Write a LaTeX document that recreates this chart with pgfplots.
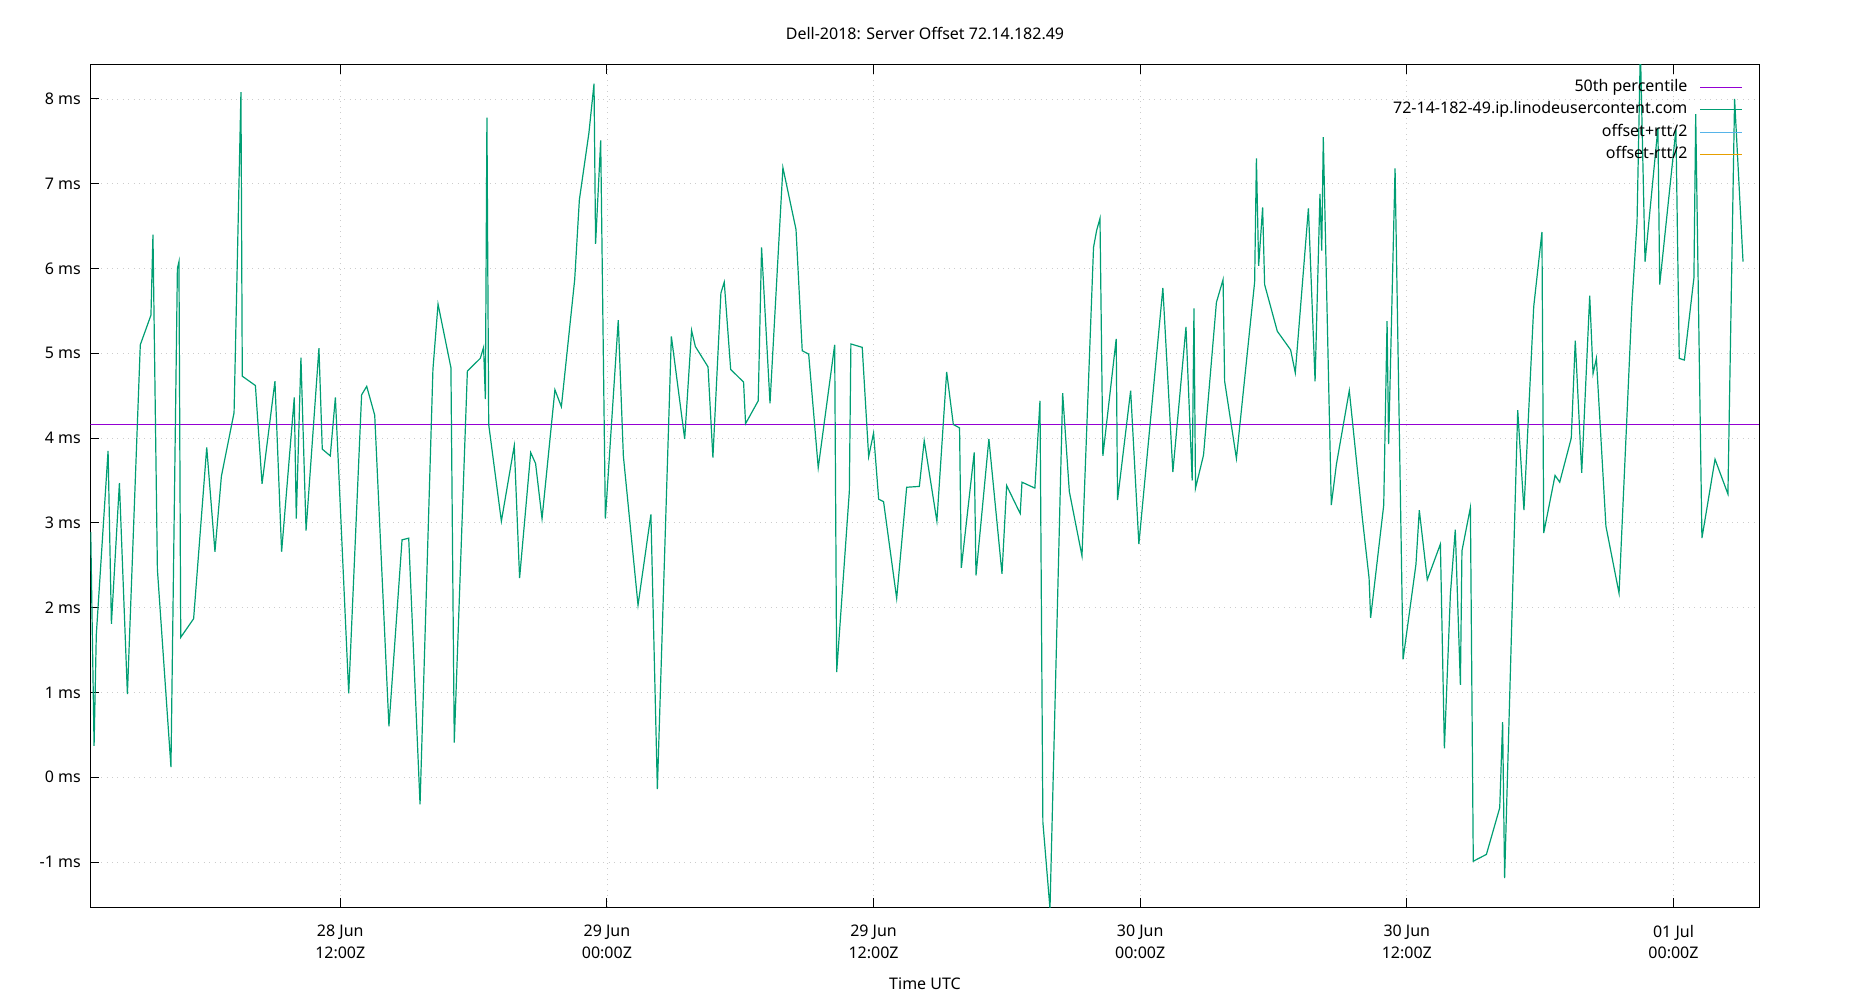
\documentclass[border=0pt]{standalone}
\usepackage{pgfplots}
\pgfplotsset{compat=1.18}
\usepackage{fontspec}
\setmainfont{Noto Sans}
\definecolor{gpviolet}{HTML}{9400D3}
\definecolor{gpgreen}{HTML}{009E73}
\definecolor{gpblue}{HTML}{56B4E9}
\definecolor{gporange}{HTML}{E69F00}
\begin{document}
\begin{tikzpicture}[font=\fontsize{8}{10.8}\selectfont]
\useasboundingbox (0,0) rectangle (925pt,500pt);
\begin{axis}[
  at={(45.15pt,46.5pt)}, anchor=south west,
  width=834.35pt, height=421pt, scale only axis,
  xmin=0.75, xmax=75.85, ymin=-1.53, ymax=8.40,
  xtick={12,24,36,48,60,72},
  xticklabels={{28 Jun\\12:00Z},{29 Jun\\00:00Z},{29 Jun\\12:00Z},{30 Jun\\00:00Z},{30 Jun\\12:00Z},{01 Jul\\00:00Z}},
  xticklabel style={align=center, yshift=-5.5pt, font=\fontsize{8}{10.8}\selectfont},
  ytick={-1,0,1,2,3,4,5,6,7,8},
  yticklabels={-1 ms,0 ms,1 ms,2 ms,3 ms,4 ms,5 ms,6 ms,7 ms,8 ms},
  yticklabel style={xshift=-1.2pt, font=\fontsize{8}{10.8}\selectfont},
  tick align=inside, major tick length=4.5pt,
  xtick pos=both, ytick pos=left,
  grid=major,
  major grid style={gray!40, line width=0.4pt, dash pattern=on 0.5pt off 2.2pt},
  axis line style={line width=0.5pt},
  major tick style={black, line width=0.5pt},
  legend cell align=right, legend plot pos=right,
  legend style={at={(1,1)}, anchor=north east, xshift=-8pt, yshift=-7pt,
    draw=none, fill=none, inner sep=0pt, row sep=3.2pt, column sep=6pt,
    nodes={inner sep=0pt, text height=6pt, text depth=2pt},
    font=\fontsize{8}{10}\selectfont},
  legend image code/.code={\draw[#1] (0pt,0pt) -- (21pt,0pt);},
]
\addplot[gpviolet, line width=0.55pt] coordinates {(0.75,4.16) (75.85,4.16)};
\addlegendentry{50th percentile}
\addplot[gpgreen, line width=0.6pt] table[x=h, y=v] {
h v
0.77 2.89
0.92 0.37
1.02 1.68
1.55 3.85
1.70 1.81
2.06 3.47
2.42 0.98
3.00 5.10
3.48 5.45
3.57 6.40
3.77 2.45
4.38 0.12
4.67 6.00
4.74 6.08
4.82 1.65
5.40 1.87
5.99 3.89
6.36 2.66
6.65 3.55
7.22 4.30
7.53 8.08
7.59 4.73
8.18 4.62
8.48 3.46
9.06 4.67
9.36 2.66
9.93 4.48
10.02 3.05
10.23 4.95
10.46 2.91
11.04 5.06
11.19 3.87
11.55 3.79
11.78 4.48
12.38 0.99
12.96 4.51
13.19 4.61
13.55 4.27
14.19 0.60
14.78 2.80
15.08 2.82
15.59 -0.32
16.17 4.81
16.40 5.58
16.98 4.83
17.13 0.41
17.72 4.79
18.30 4.94
18.45 5.07
18.53 4.46
18.60 7.78
18.68 4.16
19.25 3.02
19.83 3.91
20.07 2.35
20.57 3.83
20.79 3.70
21.08 3.05
21.66 4.57
21.95 4.37
22.55 5.87
22.76 6.81
23.19 7.60
23.42 8.18
23.49 6.29
23.72 7.51
23.93 3.05
24.51 5.39
24.74 3.79
25.40 2.03
25.98 3.10
26.27 -0.14
26.90 5.20
27.50 3.99
27.81 5.27
27.98 5.08
28.55 4.84
28.77 3.77
29.13 5.71
29.28 5.84
29.57 4.81
30.15 4.66
30.24 4.17
30.81 4.44
30.96 6.25
31.34 4.41
31.92 7.19
32.51 6.46
32.79 5.03
33.08 4.99
33.51 3.65
34.25 5.10
34.34 1.24
34.91 3.37
34.98 5.11
35.49 5.07
35.78 3.78
36.00 4.06
36.23 3.28
36.45 3.25
37.04 2.11
37.49 3.42
38.06 3.43
38.28 3.97
38.85 3.02
39.29 4.78
39.59 4.16
39.87 4.12
39.95 2.47
40.53 3.83
40.61 2.38
41.19 3.99
41.78 2.40
41.99 3.44
42.60 3.11
42.68 3.48
43.26 3.41
43.49 4.44
43.62 -0.53
43.94 -1.55
44.51 4.53
44.81 3.37
45.38 2.61
45.90 6.25
46.04 6.45
46.19 6.59
46.32 3.79
46.92 5.17
46.98 3.27
47.57 4.56
47.94 2.75
49.02 5.77
49.47 3.60
50.06 5.31
50.34 3.50
50.42 5.53
50.49 3.41
50.85 3.80
51.43 5.60
51.73 5.87
51.80 4.67
52.33 3.76
53.15 5.84
53.23 7.30
53.33 6.03
53.51 6.72
53.60 5.81
54.17 5.26
54.77 5.04
54.98 4.77
55.57 6.71
55.87 4.67
56.09 6.88
56.17 6.21
56.24 7.55
56.60 3.21
56.83 3.69
57.41 4.56
58.00 3.05
58.30 2.35
58.37 1.88
58.96 3.21
59.11 5.38
59.18 3.93
59.47 7.18
59.83 1.39
60.41 2.51
60.56 3.15
60.92 2.33
61.51 2.75
61.69 0.34
61.96 2.16
62.18 2.92
62.41 1.09
62.48 2.67
62.86 3.18
62.99 -0.99
63.58 -0.91
64.18 -0.36
64.31 0.65
64.40 -1.19
64.99 4.33
65.27 3.15
65.71 5.55
66.08 6.43
66.16 2.88
66.67 3.56
66.88 3.48
67.40 4.00
67.58 5.15
67.87 3.59
68.23 5.68
68.38 4.76
68.53 4.94
68.96 2.96
69.55 2.17
70.13 5.58
70.36 6.55
70.51 8.60
70.72 6.08
71.30 7.66
71.38 5.81
72.11 7.64
72.26 4.94
72.49 4.92
72.92 5.89
73.00 7.82
73.28 2.82
73.87 3.75
74.45 3.34
74.75 8.00
75.13 6.08
};
\addlegendentry{72-14-182-49.ip.linodeusercontent.com}
\addlegendimage{gpblue, line width=0.6pt}
\addlegendentry{offset+rtt/2}
\addlegendimage{gporange, line width=0.6pt}
\addlegendentry{offset-rtt/2}
\end{axis}
\node[anchor=base] at (462.5pt,480.1pt) {Dell-2018: Server Offset 72.14.182.49};
\node[anchor=base] at (462.5pt,5.15pt) {Time UTC};
\end{tikzpicture}
\end{document}
